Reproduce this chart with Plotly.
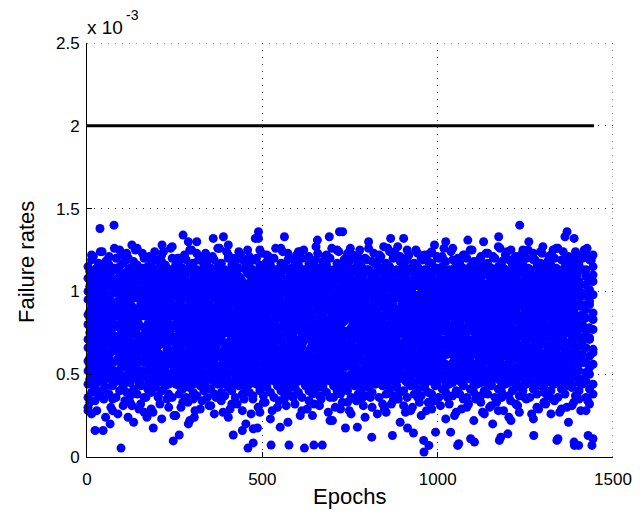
import plotly.graph_objects as go

# Epochs at which a batch of failure-rate samples is plotted
epochs_a = list(range(3, 1444, 10))
epochs_b = list(range(8, 1439, 10))

# Failure-rate samples per epoch, in units of 1e-5
rates_a_1e5 = [
    [36,44,52,58,66,71,80,86,95,100,108,115,30],
    [39,46,50,62,64,75,78,90,92,104,106,119,26,122],
    [41,43,55,57,69,72,83,85,97,99,111,113,34],
    [37,48,51,60,65,77,79,88,93,102,107,117],
    [40,45,56,63,67,73,84,91,98,101,110,114,124],
    [42,47,53,59,70,76,81,87,94,105,109,118,24],
    [38,49,54,61,68,74,82,89,96,103,112,116,121],
    [43,44,57,64,64,78,80,86,93,106,106,113,35,28],
    [36,50,52,58,71,72,85,90,99,100,113,120],
    [40,46,50,62,66,71,78,92,95,104,108,115,125],
    [42,43,55,60,69,75,83,85,92,99,111,117,31],
    [39,48,56,57,65,77,81,88,97,102,107,119,123],
    [37,45,51,63,70,73,79,91,94,101,110,114,33],
    [41,49,53,59,67,76,84,87,98,105,106,118,21],
    [38,47,54,61,68,74,82,89,96,103,112,116,126],
    [43,44,50,64,71,71,85,86,92,100,109,113,32],
    [36,50,57,58,64,78,78,92,99,106,113,120,27,121],
    [41,43,52,62,66,72,80,90,93,99,108,115],
    [39,46,55,60,69,75,83,85,97,104,111,117,29],
    [42,48,51,63,65,77,79,88,95,102,107,119,124],
    [37,45,56,57,67,73,84,91,98,101,110,114,36],
    [40,49,53,59,70,76,81,87,94,105,106,118,23,122],
    [43,47,54,61,68,74,82,89,96,103,112,116],
    [38,44,50,64,64,71,85,86,92,100,109,113,30],
    [36,50,57,58,71,78,78,92,99,106,113,120,127],
    [44,47,51,61,67,72,79,88,97,101,107,116,25],
    [38,43,56,59,65,77,83,85,93,104,111,118,120],
    [41,49,54,63,70,74,81,91,96,99,109,114,33],
    [36,45,52,57,68,76,85,87,98,103,106,119],
    [42,48,50,62,64,71,80,90,94,100,113,115,22,125],
    [39,44,55,60,71,73,78,86,92,105,110,117,35],
    [37,50,53,64,66,78,84,89,95,102,108,113,123],
    [43,46,57,58,69,75,82,92,99,106,112,120,29],
    [40,43,51,61,65,72,79,85,97,101,107,116],
    [36,47,56,59,67,77,83,88,93,104,111,118,121],
    [41,49,54,63,70,74,81,91,96,99,109,114,31],
    [38,45,52,57,68,76,85,87,98,103,106,119,26],
    [44,48,50,62,64,71,80,90,94,100,113,115,126],
    [39,44,55,60,71,73,78,86,92,105,110,117,34],
    [37,50,53,64,66,78,84,89,95,102,108,113],
    [42,46,57,58,69,75,82,92,99,106,112,120,24,122],
    [40,43,51,61,65,72,79,85,97,101,107,116,32],
    [36,47,56,59,67,77,83,88,93,104,111,118],
    [43,49,54,63,70,74,81,91,96,99,109,114,124],
    [38,45,52,57,68,76,85,87,98,103,106,119,28],
    [41,48,50,62,64,71,80,90,94,100,113,115,20],
    [39,44,55,60,71,73,78,86,92,105,110,117,121],
    [37,50,53,64,66,78,84,89,95,102,108,113,35],
    [44,46,57,58,69,75,82,92,99,106,112,120],
    [40,43,51,61,65,72,79,85,97,101,107,116,27,125],
    [37,47,53,62,68,74,80,89,93,103,110,114,33],
    [42,44,57,59,65,71,84,86,98,100,106,118,122],
    [39,50,51,64,70,77,79,91,95,105,112,116,23],
    [36,46,55,58,67,73,83,88,92,101,108,120],
    [43,48,52,61,71,76,78,85,97,104,109,113,30],
    [40,43,56,63,64,72,85,90,94,99,111,117,126],
    [38,49,50,57,69,78,81,87,99,102,107,115,35],
    [41,45,54,60,66,75,82,92,96,106,113,119,21,123],
    [37,47,53,62,68,74,80,89,93,103,110,114],
    [42,44,57,59,65,71,84,86,98,100,106,118,32],
    [39,50,51,64,70,77,79,91,95,105,112,116,124],
    [36,46,55,58,67,73,83,88,92,101,108,120,28],
    [43,48,52,61,71,76,78,85,97,104,109,113],
    [40,43,56,63,64,72,85,90,94,99,111,117,34,121],
    [38,49,50,57,69,78,81,87,99,102,107,115,25],
    [41,45,54,60,66,75,82,92,96,106,113,119,127],
    [37,47,53,62,68,74,80,89,93,103,110,114,31],
    [42,44,57,59,65,71,84,86,98,100,106,118],
    [39,50,51,64,70,77,79,91,95,105,112,116,122],
    [36,46,55,58,67,73,83,88,92,101,108,120,22],
    [43,48,52,61,71,76,78,85,97,104,109,113,36],
    [40,43,56,63,64,72,85,90,94,99,111,117,125],
    [38,49,50,57,69,78,81,87,99,102,107,115,29],
    [41,45,54,60,66,75,82,92,96,106,113,119],
    [40,48,55,61,64,76,84,88,94,101,111,116,33,123],
    [36,45,50,63,69,72,78,91,98,105,107,119,26],
    [43,47,57,58,66,77,81,85,93,100,113,114],
    [38,44,53,62,71,74,85,90,97,103,108,117,121],
    [41,50,51,59,67,71,80,87,92,106,110,115,35],
    [37,46,56,64,70,78,83,92,95,99,106,120,24],
    [42,43,52,57,65,73,79,86,99,104,112,113,126],
    [39,49,54,60,68,75,82,89,96,102,109,118,30],
    [44,48,55,61,64,76,84,88,94,101,111,116],
    [36,45,50,63,69,72,78,91,98,105,107,119,122],
    [43,47,57,58,66,77,81,85,93,100,113,114,32],
    [38,44,53,62,71,74,85,90,97,103,108,117,27],
    [41,50,51,59,67,71,80,87,92,106,110,115,124],
    [37,46,56,64,70,78,83,92,95,99,106,120,34],
    [42,43,52,57,65,73,79,86,99,104,112,113],
    [39,49,54,60,68,75,82,89,96,102,109,118,21,121],
    [40,48,55,61,64,76,84,88,94,101,111,116,31],
    [36,45,50,63,69,72,78,91,98,105,107,119,125],
    [43,47,57,58,66,77,81,85,93,100,113,114,28],
    [38,44,53,62,71,74,85,90,97,103,108,117],
    [41,50,51,59,67,71,80,87,92,106,110,115,36,123],
    [37,46,56,64,70,78,83,92,95,99,106,120,25],
    [42,43,52,57,65,73,79,86,99,104,112,113,122],
    [39,49,54,60,68,75,82,89,96,102,109,118,33],
    [38,46,51,59,66,73,81,86,95,102,110,117,29,124],
    [43,44,54,63,71,76,78,92,93,99,106,114,34],
    [36,49,57,60,64,72,84,88,98,105,111,120],
    [41,47,52,58,69,78,80,85,94,101,108,115,121],
    [39,43,56,62,67,71,83,90,96,106,113,118,23],
    [44,50,50,64,65,75,79,87,92,100,107,113,32],
    [37,45,55,57,70,74,85,91,99,104,109,119,126],
    [40,48,53,61,68,77,82,89,97,103,112,116,27],
    [38,46,51,59,66,73,81,86,95,102,110,117],
    [43,44,54,63,71,76,78,92,93,99,106,114,35,122],
    [36,49,57,60,64,72,84,88,98,105,111,120,30],
    [41,47,52,58,69,78,80,85,94,101,108,115,125],
    [39,43,56,62,67,71,83,90,96,106,113,118,22],
    [44,50,50,64,65,75,79,87,92,100,107,113],
    [37,45,55,57,70,74,85,91,99,104,109,119,33,121],
    [40,48,53,61,68,77,82,89,97,103,112,116,26],
    [38,46,51,59,66,73,81,86,95,102,110,117,123],
    [43,44,54,63,71,76,78,92,93,99,106,114,31],
    [36,49,57,60,64,72,84,88,98,105,111,120],
    [41,47,52,58,69,78,80,85,94,101,108,115,28,127],
    [39,43,56,62,67,71,83,90,96,106,113,118,36],
    [44,50,50,64,65,75,79,87,92,100,107,113,122],
    [37,45,55,57,70,74,85,91,99,104,109,119,24],
    [40,48,53,61,68,77,82,89,97,103,112,116],
    [42,45,50,60,69,71,82,88,93,105,108,114,32,121],
    [37,49,55,64,64,76,79,85,99,100,111,118,27],
    [40,43,52,58,67,73,85,91,96,103,106,116,125],
    [44,47,57,62,70,78,80,86,92,99,113,120,35],
    [36,46,51,57,66,74,84,89,97,104,109,113],
    [41,50,54,61,71,72,78,92,94,101,107,119,23,123],
    [38,44,56,63,65,77,83,87,98,106,110,115,30],
    [43,48,53,59,68,75,81,90,95,102,112,117,124],
    [39,43,50,60,69,71,82,88,93,105,108,114,33],
    [37,49,55,64,64,76,79,85,99,100,111,118],
    [40,45,52,58,67,73,85,91,96,103,106,116,26,122],
    [44,47,57,62,70,78,80,86,92,99,113,120,34],
    [36,46,51,57,66,74,84,89,97,104,109,113,126],
    [41,50,54,61,71,72,78,92,94,101,107,119,29],
    [38,44,56,63,65,77,83,87,98,106,110,115],
    [43,48,53,59,68,75,81,90,95,102,112,117,21,121],
    [42,43,50,60,69,71,82,88,93,105,108,114,31],
    [37,49,55,64,64,76,79,85,99,100,111,118,124],
    [40,45,52,58,67,73,85,91,96,103,106,116,35],
    [44,47,57,62,70,78,80,86,92,99,113,120],
    [36,46,51,57,66,74,84,89,97,104,109,113,28,123],
    [41,50,54,61,71,72,78,92,94,101,107,119,32],
    [38,44,56,63,65,77,83,87,98,106,110,115,122],
]

# Second batch of samples, in the dense middle of the band (units of 1e-5)
rates_b_1e5 = [
    [47,55,60,70,75,84,88,99,103,112], [50,52,64,67,78,81,92,95,106,109],
    [45,57,62,72,73,86,90,97,101,114], [49,53,59,68,77,80,93,94,105,110],
    [46,58,65,66,74,83,87,100,102,113], [51,54,61,71,79,85,91,96,107,108],
    [48,56,63,69,76,82,89,98,104,111], [45,52,65,70,73,80,93,100,101,114],
    [50,58,59,66,79,86,87,94,107,108], [47,54,62,72,75,83,90,97,103,111],
    [49,57,60,67,78,81,92,95,105,109], [46,53,64,71,74,85,88,99,102,113],
    [51,55,61,68,77,84,91,96,106,110], [48,56,63,69,76,82,89,98,104,112],
    [45,58,59,72,79,80,87,100,107,108], [50,52,65,66,73,86,93,94,101,114],
    [48,57,61,70,74,85,89,95,104,111], [46,53,63,68,78,80,91,99,102,108],
    [51,55,59,71,76,83,87,97,107,113], [47,52,64,66,73,86,92,94,105,110],
    [49,58,62,69,79,81,90,100,101,112], [45,54,60,72,75,84,88,96,106,109],
    [50,56,65,67,77,82,93,98,103,114], [46,57,61,70,74,80,89,95,104,108],
    [48,53,63,71,78,85,87,99,102,111], [51,55,59,68,73,83,91,97,107,113],
    [47,52,64,66,76,86,92,94,101,110], [49,58,62,69,79,81,90,100,105,109],
    [45,54,60,72,75,84,88,96,106,112], [50,56,65,67,77,82,93,98,103,114],
    [46,57,61,70,74,80,89,95,104,108], [48,53,63,71,78,85,87,99,102,111],
    [49,52,62,67,75,81,91,96,105,112], [45,56,64,70,78,86,88,94,101,109],
    [51,58,60,66,73,83,93,100,107,113], [47,54,59,72,77,80,90,97,103,110],
    [50,55,65,68,74,85,87,99,106,108], [46,53,61,71,79,82,92,95,102,114],
    [48,57,63,69,76,84,89,98,104,111], [49,52,62,67,75,81,91,96,105,112],
    [45,56,64,70,78,86,88,94,101,109], [51,58,60,66,73,83,93,100,107,113],
    [47,54,59,72,77,80,90,97,103,110], [50,55,65,68,74,85,87,99,106,108],
    [46,53,61,71,79,82,92,95,102,114], [48,57,63,69,76,84,89,98,104,111],
    [50,54,63,66,76,80,90,98,101,113], [46,58,60,71,73,84,93,95,107,110],
    [49,52,65,69,79,86,87,100,103,108], [45,55,62,67,75,82,91,94,105,114],
    [51,57,59,72,78,85,88,97,102,111], [47,53,64,68,74,81,92,99,106,109],
    [48,56,61,70,77,83,89,96,104,112], [50,54,63,66,76,80,90,98,101,113],
    [46,58,60,71,73,84,93,95,107,110], [49,52,65,69,79,86,87,100,103,108],
    [45,55,62,67,75,82,91,94,105,114], [51,57,59,72,78,85,88,97,102,111],
    [47,53,64,68,74,81,92,99,106,109], [48,56,61,70,77,83,89,96,104,112],
    [46,55,64,67,79,83,88,97,106,110], [51,52,59,70,74,80,92,100,102,113],
    [48,58,62,72,77,86,90,94,104,108], [45,53,65,66,73,82,87,98,107,112],
    [50,57,60,69,78,84,93,95,101,109], [47,54,63,71,75,81,89,99,105,114],
    [49,56,61,68,76,85,91,96,103,111], [46,55,64,67,79,83,88,97,106,110],
    [51,52,59,70,74,80,92,100,102,113], [48,58,62,72,77,86,90,94,104,108],
    [45,53,65,66,73,82,87,98,107,112], [50,57,60,69,78,84,93,95,101,109],
    [47,54,63,71,75,81,89,99,105,114], [49,56,61,68,76,85,91,96,103,111],
    [45,57,63,68,73,85,91,95,103,109], [50,53,60,72,79,81,87,99,107,112],
    [47,55,65,66,76,84,93,96,101,114], [49,52,61,71,74,80,90,100,104,110],
    [46,58,64,69,78,86,88,94,106,108], [51,54,59,67,75,83,92,97,102,113],
    [48,56,62,70,77,82,89,98,105,111], [45,57,63,68,73,85,91,95,103,109],
    [50,53,60,72,79,81,87,99,107,112], [47,55,65,66,76,84,93,96,101,114],
    [49,52,61,71,74,80,90,100,104,110], [46,58,64,69,78,86,88,94,106,108],
    [51,54,59,67,75,83,92,97,102,113], [48,56,62,70,77,82,89,98,105,111],
    [47,53,61,69,74,86,89,100,102,110], [50,58,64,66,78,80,93,95,105,113],
    [46,55,60,72,75,83,87,97,107,108], [49,52,63,70,79,85,91,94,101,112],
    [45,57,65,67,73,81,88,99,104,114], [51,54,59,71,77,84,92,96,106,109],
    [48,56,62,68,76,82,90,98,103,111], [47,53,61,69,74,86,89,100,102,110],
    [50,58,64,66,78,80,93,95,105,113], [46,55,60,72,75,83,87,97,107,108],
    [49,52,63,70,79,85,91,94,101,112], [45,57,65,67,73,81,88,99,104,114],
    [51,54,59,71,77,84,92,96,106,109], [48,56,62,68,76,82,90,98,103,111],
    [49,55,62,66,77,80,88,96,107,111], [46,52,65,71,74,86,91,100,103,108],
    [51,57,60,68,79,83,87,94,101,114], [47,54,64,72,75,81,93,98,105,110],
    [45,58,59,69,73,85,90,95,102,113], [50,53,63,67,78,84,89,99,106,109],
    [48,56,61,70,76,82,92,97,104,112], [49,55,62,66,77,80,88,96,107,111],
    [46,52,65,71,74,86,91,100,103,108], [51,57,60,68,79,83,87,94,101,114],
    [47,54,64,72,75,81,93,98,105,110], [45,58,59,69,73,85,90,95,102,113],
    [50,53,63,67,78,84,89,99,106,109], [48,56,61,70,76,82,92,97,104,112],
    [50,57,59,67,74,82,92,98,101,112], [46,54,65,70,78,85,88,95,106,109],
    [49,52,61,72,76,80,90,99,103,114], [45,56,63,66,79,84,87,96,107,110],
    [51,58,60,69,73,81,93,94,102,108], [47,53,64,71,75,86,89,100,105,113],
    [48,55,62,68,77,83,91,97,104,111], [50,57,59,67,74,82,92,98,101,112],
    [46,54,65,70,78,85,88,95,106,109], [49,52,61,72,76,80,90,99,103,114],
    [45,56,63,66,79,84,87,96,107,110], [51,58,60,69,73,81,93,94,102,108],
    [47,53,64,71,75,86,89,100,105,113], [48,55,62,68,77,83,91,97,104,111],
    [46,57,62,69,75,80,91,99,105,108], [51,53,64,66,78,86,88,95,102,112],
    [48,55,60,72,74,83,93,97,107,110], [45,52,65,70,79,81,87,100,101,114],
    [50,58,61,67,76,85,90,94,104,109], [47,54,59,71,73,82,92,98,106,113],
    [49,56,63,68,77,84,89,96,103,111], [46,57,62,69,75,80,91,99,105,108],
    [51,53,64,66,78,86,88,95,102,112], [48,55,60,72,74,83,93,97,107,110],
]

# One extra sample per second-batch epoch at the ragged edges of the band (1e-5)
edge_b_1e5 = [
    33,121,28,124,35,119,30,126,26,122,34,120,31,125,29,123,
    36,121,27,119,32,124,35,126,25,120,30,122,33,125,28,119,
    34,123,31,121,36,126,27,124,29,120,32,122,35,125,26,119,
    30,123,33,121,28,126,34,124,31,120,36,122,25,125,29,119,
    32,123,35,121,27,126,30,124,33,120,28,122,34,125,31,119,
    36,123,26,121,29,126,32,124,35,120,27,122,30,125,33,119,
    28,123,34,121,31,126,36,124,25,120,29,122,32,125,35,119,
    27,123,30,121,33,126,28,124,34,120,31,122,36,125,26,119,
    29,123,32,121,35,126,27,124,30,120,33,122,28,125,34,119,
]

# Isolated samples far from the main band (epoch, failure rate x 1e-3)
outlier_epochs = [37, 77, 128, 214, 274, 289, 313, 360, 389, 403, 480, 489, 489, 563,
                  609, 657, 691, 720, 729, 751, 803, 846, 866, 886, 903, 991, 1023,
                  1086, 1131, 1174, 1209, 1234, 1260, 1300, 1329, 1363, 1369, 1389, 1426,
                  3, 23, 46, 66, 97, 117, 171, 189, 246, 263, 289, 306, 417, 443, 459,
                  474, 474, 486, 525, 551, 576, 620, 647, 671, 700, 737, 771, 812, 871,
                  914, 931, 960, 961, 975, 994, 1037, 1057, 1060, 1094, 1105, 1157,
                  1176, 1180, 1200, 1209, 1274, 1340, 1343, 1389, 1390, 1402, 1429,
                  1440, 1443]
outlier_rates = [1.38, 1.40, 1.28, 1.28, 1.34, 1.30, 1.30, 1.32, 1.33, 1.28, 1.32, 1.36,
                 1.32, 1.33, 1.24, 1.31, 1.33, 1.36, 1.36, 1.26, 1.30, 1.27, 1.32, 1.27,
                 1.32, 1.28, 1.30, 1.31, 1.30, 1.33, 1.25, 1.40, 1.30, 1.27, 1.25, 1.33,
                 1.36, 1.32, 1.26,
                 0.28, 0.16, 0.16, 0.20, 0.054, 0.24, 0.24, 0.175, 0.097, 0.133, 0.20,
                 0.24, 0.133, 0.16, 0.054, 0.17, 0.085, 0.175, 0.072, 0.18, 0.072,
                 0.054, 0.072, 0.072, 0.22, 0.175, 0.18, 0.12, 0.13, 0.175, 0.145,
                 0.10, 0.03, 0.07, 0.15, 0.15, 0.07, 0.08, 0.11, 0.09, 0.20, 0.10,
                 0.12, 0.14, 0.22, 0.13, 0.10, 0.11, 0.09, 0.07, 0.07, 0.13, 0.07, 0.11]

threshold_epochs = [0, 1446]
threshold_rate = [2.0, 2.0]

x_range = [0, 1500]
y_range = [0, 2.5]
x_ticks = [0, 500, 1000, 1500]
y_ticks = [0, 0.5, 1.0, 1.5, 2.0, 2.5]
y_tick_text = ["0", "0.5", "1", "1.5", "2", "2.5"]

# flatten
xs, ys = [], []
for eps, rows in ((epochs_a, rates_a_1e5), (epochs_b, rates_b_1e5)):
    for e, vals in zip(eps, rows):
        for v in vals:
            xs.append(e)
            ys.append(v / 100.0)  # -> units of 1e-3
for e, v in zip(epochs_b, edge_b_1e5):
    xs.append(e)
    ys.append(v / 100.0)
xs += outlier_epochs
ys += outlier_rates

FONT = "Liberation Sans, Arial, Helvetica, sans-serif"
GRID = dict(color="#333333", width=1, dash="1px,6px")

fig = go.Figure()
fig.add_trace(go.Scatter(
    x=xs, y=ys, mode="markers",
    marker=dict(color="#0000ff", size=9, line=dict(width=0)),
    cliponaxis=False, showlegend=False, hoverinfo="skip"))
fig.add_trace(go.Scatter(
    x=threshold_epochs, y=threshold_rate, mode="lines",
    line=dict(color="black", width=3), showlegend=False, hoverinfo="skip"))

axis_common = dict(
    showline=True, linecolor="black", linewidth=1, mirror=False,
    ticks="inside", ticklen=5, tickcolor="black", tickwidth=1,
    showgrid=True, gridcolor=GRID["color"], griddash=GRID["dash"], gridwidth=1,
    zeroline=False, tickfont=dict(family=FONT, size=17, color="black"),
)
fig.update_xaxes(range=x_range, tickvals=x_ticks, ticklabelstandoff=7, **axis_common)
fig.update_yaxes(range=y_range, tickvals=y_ticks, ticktext=y_tick_text,
                 ticklabelstandoff=3, **axis_common)

# dotted box edges at the far ends of the ranges (as in the original)
fig.add_shape(type="line", xref="x", yref="y", x0=x_range[1], x1=x_range[1],
              y0=y_range[0], y1=y_range[1], line=GRID, layer="below")
fig.add_shape(type="line", xref="x", yref="y", x0=x_range[0], x1=x_range[1],
              y0=y_range[1], y1=y_range[1], line=GRID, layer="below")

fig.update_layout(
    width=644, height=516,
    margin=dict(l=87, r=31, t=43, b=59, pad=0),
    paper_bgcolor="white", plot_bgcolor="white",
    font=dict(family=FONT, color="black"),
    annotations=[
        dict(text="x 10", xref="paper", yref="paper", x=0, y=1 + (43 - 40) / 414,
             xanchor="left", yanchor="bottom", showarrow=False, xshift=-2,
             font=dict(family=FONT, size=19, color="black")),
        dict(text="-3", xref="paper", yref="paper", x=(124 - 87) / 526,
             y=1 + (43 - 25) / 414, xanchor="left", yanchor="bottom", showarrow=False,
             font=dict(family=FONT, size=14, color="black")),
        dict(text="Epochs", xref="paper", yref="paper", x=(349 - 87) / 526,
             y=-(496 - 457) / 414, xanchor="center", yanchor="middle", showarrow=False,
             font=dict(family=FONT, size=22, color="black")),
        dict(text="Failure rates", xref="paper", yref="paper", x=(26 - 87) / 526,
             y=(457 - 262) / 414, xanchor="center", yanchor="middle", textangle=-90,
             showarrow=False, font=dict(family=FONT, size=22, color="black")),
    ],
)

fig.write_html("out.html")
